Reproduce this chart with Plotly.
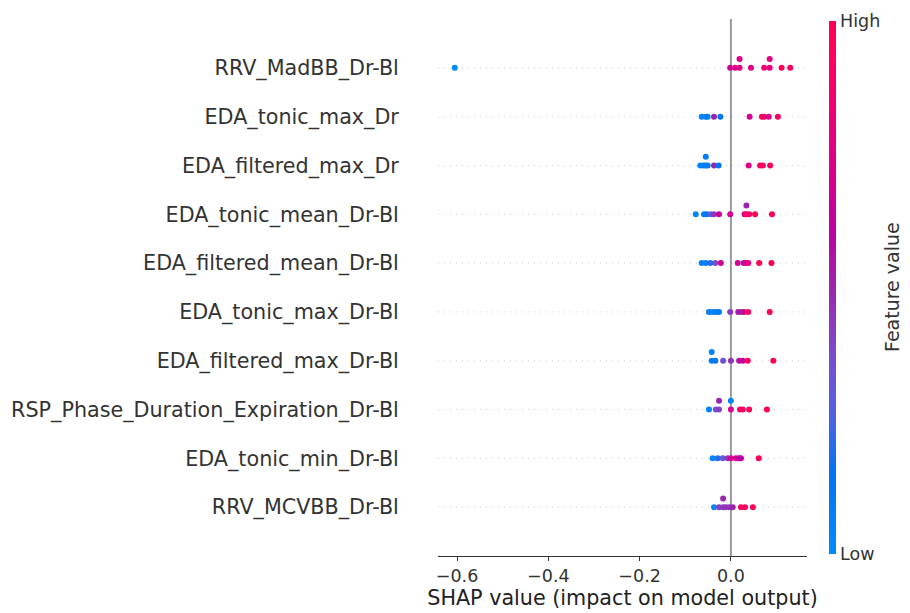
import numpy as np
import plotly.graph_objects as go

# ---------------- data (top row first) ----------------
features = [
    "RRV_MadBB_Dr-Bl",
    "EDA_tonic_max_Dr",
    "EDA_filtered_max_Dr",
    "EDA_tonic_mean_Dr-Bl",
    "EDA_filtered_mean_Dr-Bl",
    "EDA_tonic_max_Dr-Bl",
    "EDA_filtered_max_Dr-Bl",
    "RSP_Phase_Duration_Expiration_Dr-Bl",
    "EDA_tonic_min_Dr-Bl",
    "RRV_MCVBB_Dr-Bl",
]

shap_rrv_madbb = [-0.605, -0.0015, 0.0095, 0.019, 0.019, 0.044, 0.073, 0.085, 0.085, 0.111, 0.130]
fval_rrv_madbb = [0.0, 0.68, 0.75, 0.75, 0.74, 0.72, 0.82, 0.78, 0.76, 0.95, 0.93]

shap_tonic_max_dr = [-0.064, -0.055, -0.051, -0.037, -0.023, 0.041, 0.068, 0.073, 0.083, 0.103]
fval_tonic_max_dr = [0.05, 0.1, 0.08, 0.5, 0.12, 0.7, 0.95, 0.92, 0.72, 0.95]

shap_filt_max_dr = [-0.067, -0.060, -0.055, -0.055, -0.051, -0.037, -0.027, 0.039, 0.064, 0.070, 0.086]
fval_filt_max_dr = [0.05, 0.1, 0.08, 0.1, 0.12, 0.5, 0.15, 0.72, 0.92, 0.95, 0.95]

shap_tonic_mean = [-0.077, -0.059, -0.053, -0.044, -0.037, -0.026, -0.0015, 0.030, 0.034, 0.034, 0.040, 0.053, 0.090]
fval_tonic_mean = [0.05, 0.08, 0.12, 0.3, 0.45, 0.65, 0.7, 0.7, 0.88, 0.5, 0.9, 0.95, 0.95]

shap_filt_mean = [-0.064, -0.055, -0.045, -0.034, -0.022, 0.015, 0.028, 0.033, 0.038, 0.062, 0.089]
fval_filt_mean = [0.08, 0.1, 0.2, 0.35, 0.7, 0.68, 0.55, 0.7, 0.82, 0.95, 0.95]

shap_tonic_max_drbl = [-0.048, -0.040, -0.033, -0.026, -0.0015, 0.016, 0.022, 0.029, 0.038, 0.085]
fval_tonic_max_drbl = [0.1, 0.08, 0.1, 0.12, 0.42, 0.55, 0.5, 0.68, 0.92, 0.95]

shap_filt_max_drbl = [-0.042, -0.042, -0.034, -0.017, 0.0, 0.018, 0.026, 0.037, 0.093]
fval_filt_max_drbl = [0.1, 0.05, 0.12, 0.35, 0.45, 0.55, 0.65, 0.95, 0.95]

shap_rsp = [-0.048, -0.033, -0.026, -0.026, 0.0, 0.0, 0.020, 0.026, 0.040, 0.079]
fval_rsp = [0.05, 0.35, 0.4, 0.5, 0.72, 0.05, 0.85, 0.92, 0.95, 0.95]

shap_tonic_min = [-0.040, -0.029, -0.018, -0.007, 0.0, 0.011, 0.018, 0.022, 0.061]
fval_tonic_min = [0.05, 0.2, 0.3, 0.45, 0.7, 0.72, 0.6, 0.6, 0.95]

shap_rrv_mcvbb = [-0.037, -0.026, -0.017, -0.017, -0.011, -0.004, 0.004, 0.022, 0.031, 0.048]
fval_rrv_mcvbb = [0.05, 0.4, 0.45, 0.5, 0.45, 0.45, 0.5, 0.92, 0.95, 0.95]

shap_rows = [shap_rrv_madbb, shap_tonic_max_dr, shap_filt_max_dr, shap_tonic_mean, shap_filt_mean,
             shap_tonic_max_drbl, shap_filt_max_drbl, shap_rsp, shap_tonic_min, shap_rrv_mcvbb]
fval_rows = [fval_rrv_madbb, fval_tonic_max_dr, fval_filt_max_dr, fval_tonic_mean, fval_filt_mean,
             fval_tonic_max_drbl, fval_filt_max_drbl, fval_rsp, fval_tonic_min, fval_rrv_mcvbb]

x_tick_values = [-0.6, -0.4, -0.2, 0.0]
x_tick_labels = ["\u22120.6", "\u22120.4", "\u22120.2", "0.0"]


# ---------------- SHAP-like colormap (LCH interpolation) ----------------
def lab_to_rgb(L, a, b):
    fy = (L + 16) / 116
    fx = fy + a / 500
    fz = fy - b / 200
    def finv(t):
        return t ** 3 if t ** 3 > 0.008856 else (t - 16 / 116) / 7.787
    X, Y, Z = 0.95047 * finv(fx), 1.0 * finv(fy), 1.08883 * finv(fz)
    r = 3.2406 * X - 1.5372 * Y - 0.4986 * Z
    g = -0.9689 * X + 1.8758 * Y + 0.0415 * Z
    bl = 0.0557 * X - 0.2040 * Y + 1.0570 * Z
    out = []
    for c in (r, g, bl):
        c = 1.055 * c ** (1 / 2.4) - 0.055 if c > 0.0031308 else 12.92 * c
        out.append(int(round(255 * min(max(c, 0), 1))))
    return out


def shap_colorscale(n=21):
    blue = (54.0, 70.0, 4.6588)
    red = (54.0, 90.0, 0.35470565 + 2 * np.pi)
    l_mid = 40.0
    scale = []
    for i in range(n):
        t = i / (n - 1)
        L = blue[0] + (l_mid - blue[0]) * (t / 0.5) if t <= 0.5 else l_mid + (red[0] - l_mid) * ((t - 0.5) / 0.5)
        C = blue[1] + (red[1] - blue[1]) * t
        H = blue[2] + (red[2] - blue[2]) * t
        r, g, b = lab_to_rgb(L, C * np.cos(H), C * np.sin(H))
        scale.append([t, f"rgb({r},{g},{b})"])
    return scale


def beeswarm_offsets(vals, row_height=0.4, nbins=100):
    v = np.asarray(vals, float)
    quant = np.round(nbins * (v - v.min()) / (v.max() - v.min() + 1e-8))
    inds = np.argsort(quant, kind="stable")
    layer, last = 0, None
    ys = np.zeros(len(v))
    for i in inds:
        if quant[i] != last:
            layer = 0
        ys[i] = np.ceil(layer / 2) * ((layer % 2) * 2 - 1)
        layer += 1
        last = quant[i]
    ys *= 0.9 * (row_height / np.max(ys + 1))
    return ys


n = len(features)
xs, ys, cs = [], [], []
for k, (sv, fv) in enumerate(zip(shap_rows, fval_rows)):
    pos = n - 1 - k
    off = beeswarm_offsets(sv)
    xs += list(sv)
    ys += list(pos + off)
    cs += list(fv)

all_x = np.array(xs)
xmin, xmax = all_x.min(), all_x.max()
pad = 0.05 * (xmax - xmin)
x_range = [xmin - pad, xmax + pad]

font = "DejaVu Sans"
fig = go.Figure()

shapes = []
for k in range(n):
    shapes.append(dict(type="line", xref="paper", x0=0, x1=1, yref="y", y0=k, y1=k,
                       line=dict(color="#cccccc", width=1, dash="1px,5px"), layer="below"))
shapes.append(dict(type="line", xref="x", x0=0, x1=0, yref="paper", y0=0, y1=1,
                   line=dict(color="#999999", width=2), layer="below"))

# page body has an 8px margin; figure is sized/placed so the plot lands where the reference has it
L_M, R_M, T_M, B_M = 430, 103, 11, 57
W, H = 902, 605
plot_w = W - L_M - R_M
plot_h = H - T_M - B_M

fig.add_trace(go.Scatter(
    x=xs, y=ys, mode="markers",
    marker=dict(
        size=6, color=cs, colorscale=shap_colorscale(), cmin=0, cmax=1,
        line=dict(width=0),
        colorbar=dict(
            tickvals=[0, 1], ticktext=["Low", "High"], ticks="",
            tickfont=dict(family=font, size=17.5, color="#333333"),
            thickness=7, thicknessmode="pixels",
            len=533, lenmode="pixels", y=0.5, yanchor="middle", ypad=0,
            x=(821 - L_M) / plot_w, xanchor="left", xpad=0, outlinewidth=0,
        ),
    ),
    showlegend=False, hoverinfo="x",
))

fig.add_annotation(
    text="Feature value", textangle=-90, showarrow=False,
    xref="paper", yref="paper", x=(883.5 - L_M) / plot_w, y=0.5,
    xanchor="center", yanchor="middle",
    font=dict(family=font, size=19, color="#333333"),
)

fig.update_layout(
    width=W, height=H,
    margin=dict(l=L_M, r=R_M, t=T_M, b=B_M, autoexpand=False),
    paper_bgcolor="white", plot_bgcolor="white",
    font=dict(family=font, color="#333333"),
    shapes=shapes,
    xaxis=dict(
        range=x_range, tickvals=x_tick_values, ticktext=x_tick_labels,
        showgrid=False, zeroline=False, showline=True, linecolor="#333333", linewidth=1,
        ticks="outside", ticklen=4, tickcolor="#333333",
        tickfont=dict(family=font, size=17.5, color="#333333"),
        title=dict(text="SHAP value (impact on model output)",
                   font=dict(family=font, size=20.7, color="#222222"), standoff=1),
        automargin=False,
    ),
    yaxis=dict(
        range=[-1, n], tickvals=list(range(n)), ticktext=features[::-1],
        showgrid=False, zeroline=False, showline=False,
        ticks="outside", ticklen=34, tickcolor="rgba(0,0,0,0)",
        tickfont=dict(family=font, size=20.7, color="#333333"),
        automargin=False,
    ),
)

fig.write_html("out.html")
